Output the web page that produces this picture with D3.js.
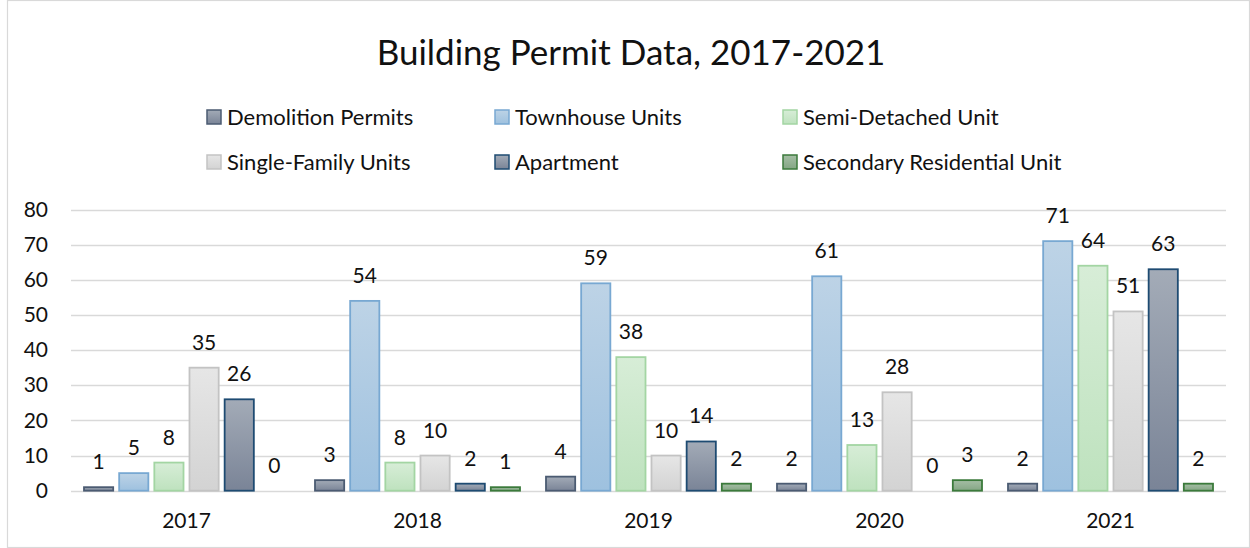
<!DOCTYPE html>
<html>
<head>
<meta charset="utf-8">
<script src="https://cdn.jsdelivr.net/npm/d3@7"></script>
<style>
  body { margin: 0; background: #fff; }
  svg { display: block; font-family: Lato, "Open Sans", sans-serif; }
</style>
</head>
<body>
<script>
// data
var years = ['2017', '2018', '2019', '2020', '2021'];
var series = ['Demolition Permits', 'Townhouse Units', 'Semi-Detached Unit',
              'Single-Family Units', 'Apartment', 'Secondary Residential Unit'];
var demolition = [1, 3, 4, 2, 2];
var townhouse = [5, 54, 59, 61, 71];
var semi_detached = [8, 8, 38, 13, 64];
var single_family = [35, 10, 10, 28, 51];
var apartment = [26, 2, 14, 0, 63];
var secondary = [0, 1, 2, 3, 2];
var y_ticks = [0, 10, 20, 30, 40, 50, 60, 70, 80];

var values = [demolition, townhouse, semi_detached, single_family, apartment, secondary];

// fill gradient top/bottom and stroke per series
var styles = [
	{ top: '#a3abb7', bottom: '#7a8497', stroke: '#4b5b72' },
	{ top: '#bdd3e6', bottom: '#9ec1df', stroke: '#78a8d2' },
	{ top: '#d7edd7', bottom: '#bee2be', stroke: '#a3d5a3' },
	{ top: '#e6e6e6', bottom: '#d3d3d3', stroke: '#c3c3c3' },
	{ top: '#a3abb7', bottom: '#7a8497', stroke: '#1e4b72' },
	{ top: '#a5bea5', bottom: '#84a684', stroke: '#3b7a3b' }
];

var width = 1250, height = 548;
var grid_color = '#d9d9d9';
var label_size = '21px';

var svg = d3.select('body').append('svg')
	.attr('width', width)
	.attr('height', height);

var defs = svg.append('defs');
styles.forEach(function(s, i) {
	var g = defs.append('linearGradient')
		.attr('id', 'grad' + i)
		.attr('x1', 0).attr('y1', 0).attr('x2', 0).attr('y2', 1);
	g.append('stop').attr('offset', '0%').attr('stop-color', s.top);
	g.append('stop').attr('offset', '100%').attr('stop-color', s.bottom);
});

// chart border
svg.append('rect')
	.attr('x', 7.5).attr('y', 0.5)
	.attr('width', width - 8).attr('height', height - 1)
	.attr('fill', 'none')
	.attr('stroke', grid_color)
	.attr('stroke-width', 1.2);

// title
svg.append('text')
	.attr('x', 631)
	.attr('y', 65)
	.attr('text-anchor', 'middle')
	.attr('font-size', '35px')
	.attr('fill', '#111')
	.text('Building Permit Data, 2017-2021');

// legend
var legend_x = [207, 495, 783];
var legend_y = [117, 162];
series.forEach(function(name, i) {
	var lx = legend_x[i % 3], ly = legend_y[Math.floor(i / 3)];
	svg.append('rect')
		.attr('x', lx).attr('y', ly - 7)
		.attr('width', 14).attr('height', 14)
		.attr('fill', 'url(#grad' + i + ')')
		.attr('stroke', styles[i].stroke)
		.attr('stroke-width', 1.5);
	svg.append('text')
		.attr('x', lx + 20)
		.attr('y', ly)
		.attr('dy', '0.35em')
		.attr('font-size', '22px')
		.attr('fill', '#111')
		.text(name);
});

// scales
var x0 = d3.scaleBand().domain(years).range([71, 1226]).padding(0);
var x1 = d3.scaleBand().domain(d3.range(series.length))
	.range([13, x0.bandwidth() - 13])
	.paddingInner(0.17).paddingOuter(0);
var y = d3.scaleLinear().domain([0, 80]).range([490.7, 209.5]);

// gridlines
svg.append('g').selectAll('line')
	.data(y_ticks)
	.enter()
	.append('line')
	.attr('x1', 71).attr('x2', 1226)
	.attr('y1', function(d) { return Math.round(y(d)) + 0.5; })
	.attr('y2', function(d) { return Math.round(y(d)) + 0.5; })
	.attr('stroke', grid_color)
	.attr('stroke-width', 1.5);

// y axis labels
var y_axis = svg.append('g')
	.attr('transform', 'translate(57,0)')
	.call(d3.axisLeft(y).tickValues(y_ticks).tickSize(0).tickPadding(9));
y_axis.select('.domain').remove();
y_axis.selectAll('text')
	.attr('font-family', 'Lato, "Open Sans", sans-serif')
	.attr('font-size', label_size)
	.attr('fill', '#111');

// x axis labels
var x_axis = svg.append('g')
	.attr('transform', 'translate(0,' + y(0) + ')')
	.call(d3.axisBottom(x0).tickSize(0).tickPadding(22));
x_axis.select('.domain').remove();
x_axis.selectAll('text')
	.attr('font-family', 'Lato, "Open Sans", sans-serif')
	.attr('font-size', label_size)
	.attr('fill', '#111');

// bars
var groups = svg.append('g').selectAll('g')
	.data(years)
	.enter()
	.append('g')
	.attr('transform', function(d) { return 'translate(' + x0(d) + ',0)'; });

groups.selectAll('rect')
	.data(function(d, j) { return values.map(function(v, i) { return { s: i, v: v[j] }; }); })
	.enter()
	.append('rect')
	.filter(function(d) { return d.v > 0; })
	.attr('x', function(d) { return x1(d.s); })
	.attr('width', x1.bandwidth())
	.attr('y', function(d) { return y(d.v); })
	.attr('height', function(d) { return y(0) - y(d.v); })
	.attr('fill', function(d) { return 'url(#grad' + d.s + ')'; })
	.attr('stroke', function(d) { return styles[d.s].stroke; })
	.attr('stroke-width', 1.8);

groups.selectAll('text')
	.data(function(d, j) { return values.map(function(v, i) { return { s: i, v: v[j] }; }); })
	.enter()
	.append('text')
	.attr('x', function(d) { return x1(d.s) + x1.bandwidth() / 2; })
	.attr('y', function(d) { return y(d.v) - 18; })
	.attr('text-anchor', 'middle')
	.attr('font-size', label_size)
	.attr('fill', '#111')
	.text(function(d) { return d.v; });
</script>
</body>
</html>
